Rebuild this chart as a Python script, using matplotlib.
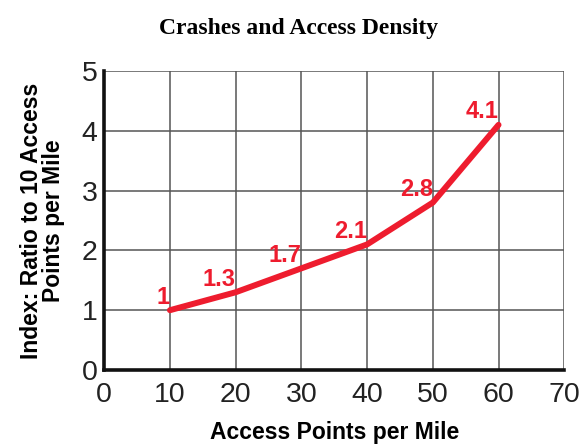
import numpy as np
import matplotlib.pyplot as plt

plt.rcParams['font.family'] = ['Liberation Sans', 'DejaVu Sans']

access = [10, 20, 30, 40, 50, 60]
index = [1, 1.3, 1.7, 2.1, 2.8, 4.1]
labels = ['1', '1.3', '1.7', '2.1', '2.8', '4.1']

fig = plt.figure(figsize=(5.79, 4.44), dpi=100)
ax = fig.add_axes([0.18, 0.1667, 0.7945, 0.6733])

red = '#ee1c2e'
ax.plot(access, index, color=red, lw=4.3, solid_capstyle='round', zorder=3)
for x, y, t in zip(access, index, labels):
    ax.annotate(t, (x, y), xytext=(0, 1), textcoords='offset points',
                ha='right', va='bottom', color=red, fontsize=17,
                fontweight='bold', zorder=4)

ax.set_xlim(0, 70)
ax.set_ylim(0, 5)
ax.set_xticks(np.arange(0, 71, 10))
ax.set_yticks(np.arange(0, 6, 1))
ax.grid(True, color='#555555', lw=1.1)
ax.tick_params(length=0, labelsize=20.5, labelcolor='#222222')
ax.tick_params(axis='x', pad=9)
ax.tick_params(axis='y', pad=5)
ax.spines['top'].set_visible(False)
ax.spines['right'].set_visible(False)
for s in ['left', 'bottom']:
    ax.spines[s].set_linewidth(2.6)
    ax.spines[s].set_color('#111111')
    ax.spines[s].set_zorder(5)

ax.set_xlabel('Access Points per Mile', fontsize=16.5, fontweight='bold', labelpad=9)
ax.set_ylabel('Index: Ratio to 10 Access\nPoints per Mile', fontsize=16.5,
              fontweight='bold', labelpad=12, linespacing=0.95)
fig.text(0.515, 0.935, 'Crashes and Access Density', ha='center', va='center',
         fontsize=17, fontweight='bold', family='Liberation Serif')

fig.savefig('out.png', dpi=100)
